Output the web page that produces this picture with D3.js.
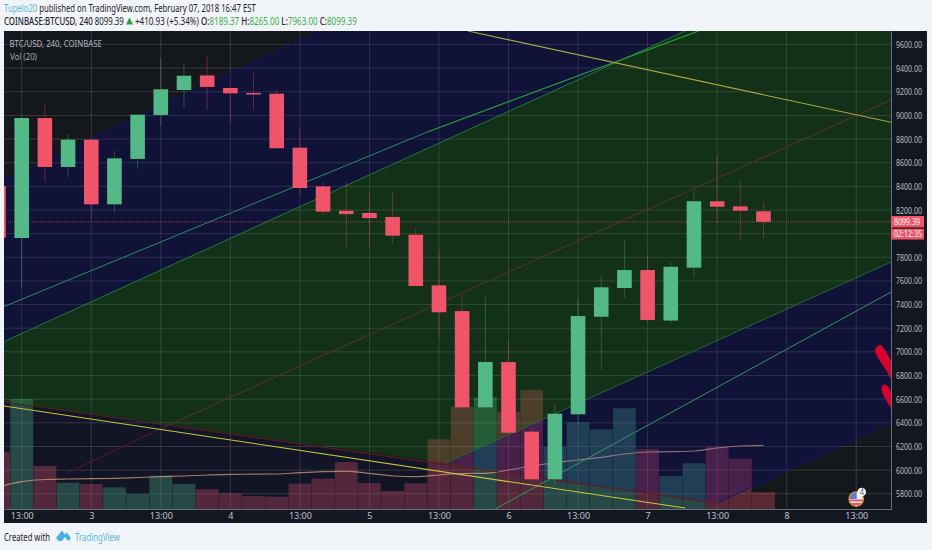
<!DOCTYPE html>
<html>
<head>
<meta charset="utf-8">
<script src="https://cdnjs.cloudflare.com/ajax/libs/d3/7.8.5/d3.min.js"></script>
<style>
  html, body { margin: 0; padding: 0; background: #f1f4f9; overflow: hidden; }
  svg { display: block; font-family: "Noto Sans", sans-serif; }
</style>
</head>
<body>
<div id="vis"></div>
<script>
// candles, index -1 is the one cut by the left edge
const candleIndex = d3.range(-1, 33);
const opens = [8403, 7963, 8978, 8564, 8795, 8248, 8632, 9004, 9215, 9338, 9232, 9190, 9184, 8727, 8400, 8194, 8175, 8141, 7991, 7563, 7345, 6531, 6914, 6325, 5922, 6472, 7297, 7540, 7692, 7265, 7712, 8274, 8231, 8189.37];
const closes = [7966, 8978, 8564, 8795, 8248, 8637, 9006, 9221, 9336, 9241, 9187, 9177, 8722, 8386, 8186, 8165, 8132, 7983, 7557, 7335, 6531, 6914, 6316, 5922, 6477, 7303, 7546, 7692, 7270, 7720, 8274, 8228, 8194, 8099.39];
const highs = [8403, 8990, 9105, 8843, 8800, 8702, 9006, 9486, 9435, 9503, 9245, 9359, 9215, 8894, 8430, 8440, 8344, 8355, 8048, 7862, 7481, 7464, 7100, 6360, 6560, 7446, 7650, 7955, 7826, 7760, 8369, 8659, 8454, 8265];
const lows = [7966, 7540, 8440, 8479, 8124, 8175, 8547, 8911, 9063, 9046, 8936, 9046, 8722, 8327, 8158, 7870, 7887, 7913, 7557, 7117, 6531, 6531, 6316, 5922, 5880, 6400, 6845, 7455, 7252, 7240, 7627, 8093, 7946, 7963];
const volumes = [5730, 11000, 4300, 2630, 2500, 2170, 1500, 3330, 2500, 1970, 1570, 1300, 1230, 2530, 3030, 4700, 2600, 1800, 2570, 6970, 10230, 11170, 9730, 11900, 6230, 8670, 7970, 10070, 6000, 3300, 4570, 6230, 5030, 1670];
const volumeMA = [2200, 2730, 2950, 3000, 3030, 3070, 3150, 3230, 3300, 3400, 3470, 3480, 3500, 3630, 3730, 3770, 3570, 3300, 3230, 3400, 3550, 3570, 3900, 4300, 4630, 4900, 5170, 5500, 5700, 5730, 5800, 6100, 6300, 6370];
const lastPrice = 8099.39;

const priceTicks = d3.range(5800, 9601, 200);
const timeTicks = d3.range(0, 37, 3);
const timeLabels = ["13:00", "3", "13:00", "4", "13:00", "5", "13:00", "6", "13:00", "7", "13:00", "8", "13:00"];

// drawings, as [candle index, price]
const IDX_MIN = -0.764, IDX_MAX = 37.5;
const PRICE_MIN = 5671, PRICE_MAX = 9714;

const bandUpperNavy = [[IDX_MIN, 8454], [12.87, PRICE_MAX], [28.61, PRICE_MAX], [IDX_MIN, 7087]];
const bandGreen = [[IDX_MIN, 7087], [28.61, PRICE_MAX], [IDX_MAX, PRICE_MAX], [IDX_MAX, 7760], [18.3, 6060], [IDX_MIN, 6576]];
const bandLowerNavy = [[18.3, 6060], [IDX_MAX, 7760], [IDX_MAX, 6407], [30, 5721]];
const bandUnder = [[IDX_MIN, 6576], [30, 5721], [30, PRICE_MIN], [IDX_MIN, PRICE_MIN]];

const trendLines = [
  { pts: [[IDX_MIN, 8454], [12.87, PRICE_MAX]], color: "#10126a", w: 1 },
  { pts: [[IDX_MIN, 7087], [28.61, PRICE_MAX]], color: "#1f7a3a", w: 1 },
  { pts: [[IDX_MIN, 7383], [17.5, 8860]], color: "#2b8c66", w: 1 },
  { pts: [[17.5, 8860], [29.2, PRICE_MAX]], color: "#27a334", w: 1.2 },
  { pts: [[18.3, 6060], [IDX_MAX, 7760]], color: "#1f6a38", w: 1 },
  { pts: [[20.42, PRICE_MIN], [IDX_MAX, 7506]], color: "#2f9a55", w: 1 },
  { pts: [[30, 5721], [IDX_MAX, 6407]], color: "#12126e", w: 1 },
  { pts: [[1.954, 5975], [6.1, 6360]], color: "#5c1530", w: 1 },
  { pts: [[6.1, 6360], [IDX_MAX, 9131]], color: "#5f3322", w: 1 },
  { pts: [[IDX_MIN, 6576], [30, 5721]], color: "#5e1a28", w: 1.2 },
  { pts: [[IDX_MIN, 6542], [28.61, 5679]], color: "#c9c63a", w: 1.1 },
  { pts: [[19.25, PRICE_MAX], [IDX_MAX, 8942]], color: "#a9a63f", w: 1.1 },
];

const redMarkA = [[36.81, 7016], [37.03, 7058], [37.24, 7016], [37.5, 6913], [37.5, 6778], [37.29, 6846], [36.94, 6948]];
const redMarkB = [[37.11, 6711], [37.29, 6720], [37.5, 6660], [37.5, 6533], [37.29, 6592], [37.11, 6660]];

const WIDTH = 932, HEIGHT = 550;
const PLOT = { left: 4, right: 891, top: 31, bottom: 509, outerRight: 927, outerBottom: 523 };
const GREEN = "#53b987", RED = "#ef5468";
const BLUE_TEXT = "#5ab8dc", DARK_TEXT = "#1e222a", GREEN_TEXT = "#3fae49";

const svg = d3.select("#vis").append("svg").attr("width", WIDTH).attr("height", HEIGHT);

const x = d3.scaleLinear().domain([IDX_MIN, IDX_MAX]).range([PLOT.left, PLOT.right]);
const y = d3.scaleLinear().domain([PRICE_MIN, PRICE_MAX]).range([PLOT.bottom, PLOT.top]);
const yVol = d3.scaleLinear().domain([0, 11000]).range([PLOT.bottom, 399]);

const toPath = d3.line().x((d) => x(d[0])).y((d) => y(d[1]));
const step = x(1) - x(0);

const defs = svg.append("defs");
defs.append("clipPath").attr("id", "plot-clip").append("rect")
  .attr("x", PLOT.left).attr("y", PLOT.top)
  .attr("width", PLOT.right - PLOT.left).attr("height", PLOT.bottom - PLOT.top);

// panel
svg.append("rect").attr("x", PLOT.left).attr("y", PLOT.top)
  .attr("width", PLOT.outerRight - PLOT.left).attr("height", PLOT.outerBottom - PLOT.top)
  .attr("fill", "#131722");

const plot = svg.append("g").attr("clip-path", "url(#plot-clip)");
plot.append("rect").attr("x", PLOT.left).attr("y", PLOT.top)
  .attr("width", PLOT.right - PLOT.left).attr("height", PLOT.bottom - PLOT.top)
  .attr("fill", "#14171c");

// grid
plot.selectAll("line.hgrid").data(priceTicks).join("line")
  .attr("class", "hgrid")
  .attr("x1", PLOT.left).attr("x2", PLOT.right)
  .attr("y1", (d) => y(d)).attr("y2", (d) => y(d))
  .attr("stroke", "#fff").attr("stroke-opacity", 0.15);
plot.selectAll("line.vgrid").data(timeTicks).join("line")
  .attr("class", "vgrid")
  .attr("x1", (d) => x(d)).attr("x2", (d) => x(d))
  .attr("y1", PLOT.top).attr("y2", PLOT.bottom)
  .attr("stroke", "#fff").attr("stroke-opacity", 0.15);

// volume
plot.selectAll("rect.vol").data(candleIndex).join("rect")
  .attr("class", "vol")
  .attr("x", (d) => x(d) - step / 2 + 0.2)
  .attr("width", step - 0.4)
  .attr("y", (d, i) => yVol(volumes[i]))
  .attr("height", (d, i) => PLOT.bottom - yVol(volumes[i]))
  .attr("fill", (d, i) => (closes[i] >= opens[i] ? GREEN : RED))
  .attr("fill-opacity", (d, i) => (closes[i] >= opens[i] ? 0.34 : 0.32));

plot.append("path")
  .attr("d", d3.line().curve(d3.curveMonotoneX)
    .x((d) => x(d))
    .y((d, i) => yVol(volumeMA[i]))(candleIndex))
  .attr("fill", "none")
  .attr("stroke", "#e6a878")
  .attr("stroke-opacity", 0.75)
  .attr("stroke-width", 1.2);

// fib channel fills, transparent and above the volume so the bars take their tint
plot.selectAll("path.band")
  .data([
    { pts: bandUnder, color: "#0000a8", alpha: 0.07 },
    { pts: bandUpperNavy, color: "#0000a8", alpha: 0.2 },
    { pts: bandGreen, color: "#0f9408", alpha: 0.2 },
    { pts: bandLowerNavy, color: "#0000a8", alpha: 0.2 },
  ])
  .join("path")
  .attr("class", "band")
  .attr("d", (d) => toPath(d.pts) + "Z")
  .attr("fill", (d) => d.color)
  .attr("fill-opacity", (d) => d.alpha);

// trend lines
plot.selectAll("path.trend").data(trendLines).join("path")
  .attr("class", "trend")
  .attr("d", (d) => toPath(d.pts))
  .attr("fill", "none")
  .attr("stroke", (d) => d.color)
  .attr("stroke-width", (d) => d.w);

// last price line
plot.append("line")
  .attr("x1", PLOT.left).attr("x2", PLOT.right)
  .attr("y1", y(lastPrice)).attr("y2", y(lastPrice))
  .attr("stroke", "#ef5468").attr("stroke-opacity", 0.6)
  .attr("stroke-dasharray", "1 1");

// candles
const candles = plot.selectAll("g.candle").data(candleIndex).join("g").attr("class", "candle");
candles.append("line")
  .attr("x1", (d) => x(d)).attr("x2", (d) => x(d))
  .attr("y1", (d, i) => y(highs[i])).attr("y2", (d, i) => y(lows[i]))
  .attr("stroke", (d, i) => (closes[i] >= opens[i] ? GREEN : RED))
  .attr("stroke-opacity", 0.35);
candles.append("rect")
  .attr("x", (d) => x(d) - 7.3)
  .attr("width", 14.6)
  .attr("y", (d, i) => y(Math.max(opens[i], closes[i])))
  .attr("height", (d, i) => Math.max(1.2, Math.abs(y(opens[i]) - y(closes[i]))))
  .attr("fill", (d, i) => (closes[i] >= opens[i] ? GREEN : RED));

// red marker strokes at the right edge
plot.selectAll("path.doodle").data([redMarkA, redMarkB]).join("path")
  .attr("class", "doodle")
  .attr("d", (d) => d3.line().curve(d3.curveCardinalClosed).x((p) => x(p[0])).y((p) => y(p[1]))(d))
  .attr("fill", "#d8002c");

// axes, the 8000 label sits under the countdown tag
const yAxis = svg.append("g")
  .attr("transform", `translate(${PLOT.right},0)`)
  .call(d3.axisRight(y).tickValues(priceTicks.filter((d) => d !== 8000)).tickFormat(d3.format(".2f")).tickSize(0).tickPadding(5));
yAxis.select(".domain").attr("stroke", "#6a6e78");
yAxis.selectAll("text")
  .attr("fill", "#b9bdc6").attr("font-size", 9.5)
  .attr("font-family", '"Noto Sans", sans-serif')
  .attr("textLength", 26).attr("lengthAdjust", "spacingAndGlyphs");

const xAxis = svg.append("g")
  .attr("transform", `translate(0,${PLOT.bottom})`)
  .call(d3.axisBottom(x).tickValues(timeTicks).tickFormat((d, i) => timeLabels[i]).tickSize(0).tickPadding(4));
xAxis.select(".domain").attr("stroke", "#6a6e78");
xAxis.selectAll("text")
  .attr("fill", "#c0c4cc").attr("font-size", 9)
  .attr("font-family", '"Noto Sans", sans-serif');

// price tags
const tags = [
  { label: "8099.39", top: 216, h: 11.4 },
  { label: "02:12:35", top: 228.7, h: 10.8 },
];
const tag = svg.selectAll("g.tag").data(tags).join("g").attr("class", "tag");
tag.append("rect").attr("x", PLOT.right).attr("y", (d) => d.top)
  .attr("width", 33).attr("height", (d) => d.h).attr("fill", RED);
tag.append("text").attr("x", PLOT.right + 3).attr("y", (d) => d.top + d.h - 2.5)
  .attr("fill", "#fff").attr("font-size", 8.5)
  .attr("textLength", (d) => (d.label.length > 7 ? 28 : 26)).attr("lengthAdjust", "spacingAndGlyphs")
  .text((d) => d.label);

// event flag
const flagX = x(36), flagY = 499;
defs.append("clipPath").attr("id", "flag-clip").append("circle")
  .attr("cx", flagX).attr("cy", flagY).attr("r", 7);
const flag = svg.append("g");
flag.append("circle").attr("cx", flagX).attr("cy", flagY).attr("r", 7)
  .attr("fill", "#eef1f8");
const flagInner = flag.append("g").attr("clip-path", "url(#flag-clip)");
flagInner.append("path")
  .attr("d", `M${flagX - 7},${flagY + 0.5}h14v2h-14zM${flagX - 7},${flagY + 4}h14v2h-14z`)
  .attr("fill", "#e5506a");
flagInner.append("rect").attr("x", flagX - 7).attr("y", flagY - 7).attr("width", 7.5).attr("height", 7)
  .attr("fill", "#5b7fd0");
flag.append("circle").attr("cx", flagX).attr("cy", flagY).attr("r", 7.3)
  .attr("fill", "none").attr("stroke", "#df9433").attr("stroke-width", 1.1);
flag.append("circle").attr("cx", flagX + 5.5).attr("cy", flagY - 7).attr("r", 4.3).attr("fill", "#fff");
flag.append("text").attr("x", flagX + 5.5).attr("y", flagY - 4).attr("text-anchor", "middle")
  .attr("font-size", 8).attr("fill", "#555").text("4");

// texts, squeezed sideways to the widths of the original fonts
function label(parts, x0, x1, baseline, size) {
  const t = svg.append("text")
    .attr("font-size", size);
  parts.forEach((p) => {
    t.append("tspan").attr("fill", p[1]).attr("font-weight", p[2] || 400).text(p[0]);
  });
  const natural = t.node().getComputedTextLength();
  t.attr("transform", `translate(${x0},${baseline}) scale(${(x1 - x0) / natural},1)`);
}

label([["Tupelo20 ", BLUE_TEXT], ["published on TradingView.com, February 07, 2018 16:47 EST", DARK_TEXT]], 4, 256, 11.5, 10.5);

label([["COINBASE:BTCUSD, 240 ", DARK_TEXT, 500], ["8099.39", DARK_TEXT]], 4, 124, 24.5, 10.5);
svg.append("path").attr("d", "M126,24.5L129.5,17.5L133,24.5Z").attr("fill", "#2f9e3f");
label([
  ["+410.93 (+5.34%) ", DARK_TEXT],
  ["O:", DARK_TEXT, 500], ["8189.37 ", GREEN_TEXT],
  ["H:", DARK_TEXT, 500], ["8265.00 ", GREEN_TEXT],
  ["L:", DARK_TEXT, 500], ["7963.00 ", GREEN_TEXT],
  ["C:", DARK_TEXT, 500], ["8099.39", GREEN_TEXT],
], 135, 357, 24.5, 10.5);

label([["BTC/USD, 240, COINBASE", "#b5b8c0"]], 9.5, 102, 47, 9);
label([["Vol (20)", "#a8abb3"]], 10, 37, 59.5, 9);

label([["Created with", DARK_TEXT]], 4, 50, 541, 10.5);
label([["TradingView", BLUE_TEXT]], 75, 120, 541, 10.5);
svg.append("path")
  .attr("d", "M56,538L62,530.5L65,534.5L67,532.5L71,538.5L68,541L65,537L62,541L58.5,541Z")
  .attr("fill", "#46b2e0");
</script>
</body>
</html>
